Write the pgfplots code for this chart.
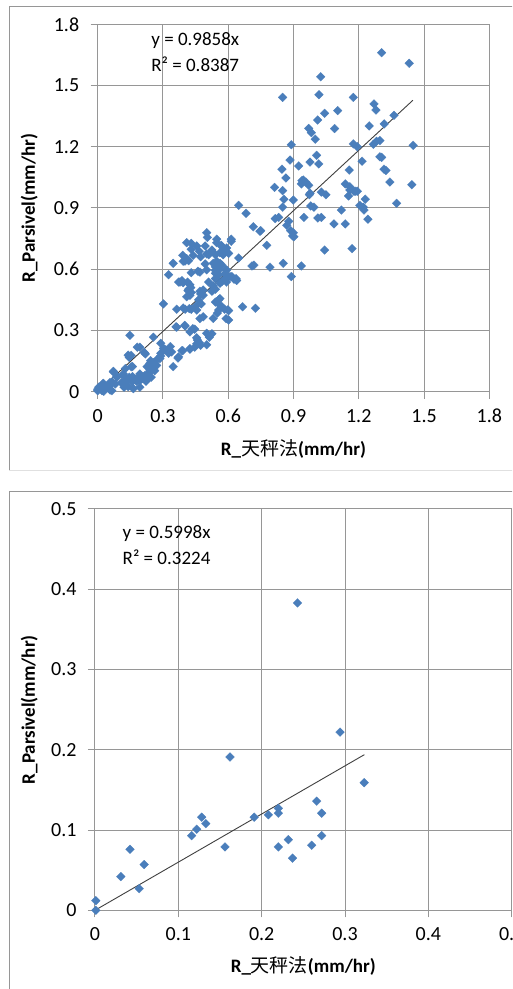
\documentclass[border=0pt]{standalone}
\usepackage{pgfplots}
\pgfplotsset{compat=1.18}
\usepackage{fontspec}
\setmainfont{Carlito}
\newfontfamily\cjk{Noto Sans CJK TC}

\definecolor{gridgray}{RGB}{150,150,150}
\definecolor{markblue}{RGB}{74,126,187}
\definecolor{framegray}{RGB}{150,150,150}

% top panel: R_Parsivel vs balance method
\pgfplotstableread{
x y
1.305 1.661
1.432 1.609
1.025 1.543
0.850 1.442
1.017 1.455
1.175 1.442
1.270 1.410
1.279 1.380
1.362 1.354
1.043 1.364
1.103 1.377
1.011 1.331
0.970 1.290
0.982 1.269
1.089 1.289
1.248 1.302
1.317 1.312
1.000 1.237
0.890 1.210
1.175 1.214
1.193 1.200
1.267 1.212
1.282 1.227
1.297 1.230
1.450 1.207
1.006 1.158
0.976 1.125
1.016 1.116
1.215 1.129
1.297 1.151
1.305 1.148
0.884 1.135
0.924 1.106
0.847 1.090
1.316 1.090
1.325 1.084
1.156 1.086
0.865 1.047
0.939 1.034
0.945 1.037
0.957 1.027
1.343 1.027
1.444 1.014
0.813 1.001
0.936 1.018
0.970 1.011
1.138 1.018
1.159 1.004
0.850 0.985
0.976 0.972
1.028 0.978
1.049 0.965
1.178 0.982
1.193 0.982
1.159 0.988
1.184 0.982
1.153 0.959
0.973 0.965
0.856 0.943
0.899 0.939
1.230 0.943
1.374 0.923
0.850 0.904
0.979 0.910
0.994 0.904
1.205 0.913
1.221 0.904
1.224 0.890
0.648 0.913
0.682 0.874
0.948 0.854
1.012 0.851
1.028 0.854
1.120 0.890
1.242 0.845
0.816 0.848
0.832 0.854
0.878 0.835
1.086 0.822
1.138 0.822
0.715 0.808
0.746 0.786
0.869 0.815
0.887 0.789
0.896 0.763
0.501 0.779
0.504 0.756
0.547 0.747
0.614 0.747
0.749 0.789
0.777 0.717
0.899 0.779
0.902 0.759
1.043 0.694
1.169 0.701
0.430 0.727
0.409 0.730
0.455 0.714
0.494 0.714
0.525 0.694
0.614 0.737
0.547 0.730
0.568 0.717
0.593 0.704
0.571 0.710
0.467 0.688
0.439 0.668
0.473 0.661
0.501 0.675
0.562 0.681
0.586 0.691
0.541 0.671
0.577 0.671
0.602 0.678
0.430 0.698
0.391 0.668
0.347 0.629
0.648 0.655
0.709 0.616
0.718 0.620
0.792 0.610
0.853 0.629
0.890 0.564
0.936 0.616
0.418 0.642
0.401 0.640
0.393 0.639
0.409 0.652
0.510 0.671
0.547 0.639
0.562 0.629
0.541 0.612
0.326 0.573
0.378 0.537
0.393 0.534
0.413 0.537
0.430 0.583
0.470 0.586
0.461 0.590
0.418 0.502
0.430 0.486
0.409 0.465
0.494 0.626
0.501 0.597
0.531 0.629
0.541 0.594
0.556 0.573
0.571 0.620
0.589 0.597
0.608 0.564
0.627 0.551
0.639 0.545
0.510 0.537
0.531 0.518
0.571 0.540
0.592 0.537
0.541 0.580
0.556 0.596
0.593 0.596
0.584 0.577
0.586 0.554
0.617 0.564
0.636 0.554
0.372 0.537
0.387 0.544
0.424 0.524
0.415 0.495
0.428 0.510
0.541 0.554
0.562 0.531
0.470 0.492
0.485 0.473
0.485 0.498
0.473 0.479
0.525 0.492
0.541 0.502
0.424 0.472
0.464 0.450
0.452 0.420
0.476 0.430
0.531 0.499
0.556 0.450
0.562 0.424
0.562 0.456
0.541 0.439
0.583 0.404
0.598 0.401
0.571 0.416
0.602 0.397
0.556 0.400
0.602 0.351
0.590 0.358
0.550 0.385
0.531 0.359
0.666 0.416
0.725 0.409
0.302 0.430
0.363 0.404
0.393 0.410
0.421 0.407
0.402 0.404
0.430 0.404
0.455 0.400
0.485 0.367
0.470 0.358
0.363 0.316
0.360 0.318
0.400 0.325
0.402 0.322
0.424 0.293
0.437 0.309
0.446 0.306
0.501 0.286
0.446 0.218
0.424 0.211
0.455 0.235
0.455 0.264
0.467 0.241
0.513 0.267
0.525 0.284
0.501 0.230
0.458 0.253
0.473 0.227
0.391 0.201
0.387 0.201
0.424 0.208
0.369 0.165
0.372 0.171
0.347 0.123
0.148 0.276
0.256 0.267
0.182 0.218
0.194 0.218
0.219 0.185
0.140 0.179
0.154 0.178
0.145 0.168
0.214 0.192
0.290 0.237
0.302 0.212
0.308 0.208
0.318 0.202
0.334 0.221
0.340 0.195
0.290 0.188
0.286 0.162
0.326 0.188
0.290 0.175
0.273 0.158
0.258 0.142
0.240 0.139
0.243 0.152
0.256 0.139
0.271 0.129
0.262 0.103
0.227 0.123
0.160 0.123
0.154 0.122
0.127 0.113
0.072 0.097
0.072 0.100
0.091 0.074
0.087 0.073
0.160 0.074
0.194 0.087
0.209 0.064
0.218 0.080
0.230 0.083
0.234 0.090
0.246 0.071
0.222 0.051
0.194 0.057
0.210 0.073
0.182 0.064
0.145 0.071
0.158 0.048
0.133 0.057
0.112 0.041
0.118 0.080
0.179 0.051
0.134 0.051
0.109 0.045
0.140 0.025
0.081 0.038
0.056 0.045
0.066 0.048
0.053 0.028
0.044 0.025
0.026 0.041
0.023 0.038
0.011 0.015
0.005 0.022
0.000 0.012
0.000 0.005
0.020 0.005
0.038 0.022
0.057 0.008
0.028 0.002
0.065 0.005
0.121 0.022
0.164 0.015
0.194 0.022
0.194 0.054
0.227 0.061
0.240 0.106
0.258 0.119
0.118 0.087
0.172 0.061
}\toptable

% bottom panel
\pgfplotstableread{
x y
0.243 0.383
0.294 0.222
0.162 0.191
0.323 0.159
0.266 0.136
0.220 0.127
0.220 0.121
0.208 0.119
0.272 0.121
0.191 0.116
0.128 0.116
0.133 0.108
0.122 0.101
0.116 0.093
0.232 0.088
0.272 0.093
0.156 0.079
0.220 0.079
0.260 0.081
0.237 0.065
0.042 0.076
0.059 0.057
0.031 0.042
0.053 0.027
0.001 0.012
0.001 0.000
}\bottable

\pgfplotsset{
  excel/.style={
    scale only axis,
    anchor=south west,
    clip=false,
    axis line style={draw=gridgray, line width=1pt},
    grid=major,
    major grid style={draw=gridgray, line width=1pt},
    tick style={draw=gridgray, line width=1pt},
    tick align=outside,
    major tick length=7pt,
    xtick pos=left, ytick pos=left,
    /pgf/number format/assume math mode=true,
    ticklabel style={font=\fontsize{20}{23}\selectfont, text=black},
    yticklabel style={xshift=-8pt},
    xticklabel style={yshift=-7pt},
    label style={font=\fontsize{19}{22}\selectfont\bfseries},
  },
  dots/.style={only marks, draw=markblue, fill=markblue, mark=square*,
    mark size=3.1pt, mark options={rotate=45, line width=0.2pt}},
  trend/.style={black!75, line width=0.9pt},
}

\begin{document}
\begin{tikzpicture}
\useasboundingbox (0pt,0pt) rectangle (512pt,989pt);
\clip (0pt,0pt) rectangle (512pt,989pt);
\fill[white] (0pt,0pt) rectangle (512pt,989pt);

% chart frames
\draw[framegray, line width=1pt] (9pt,519pt) -- (9pt,982pt) -- (520pt,982pt);
\draw[black!12, line width=0.8pt] (9pt,519pt) -- (520pt,519pt);
\draw[framegray, line width=1pt] (9pt,-5pt) -- (9pt,497pt) -- (520pt,497pt);

\begin{axis}[excel,
  at={(97.7pt,597.3pt)}, width=391.6pt, height=367.4pt,
  xmin=0, xmax=1.8, ymin=0, ymax=1.8,
  xtick={0,0.3,0.6,0.9,1.2,1.5,1.8},
  ytick={0,0.3,0.6,0.9,1.2,1.5,1.8},
  xlabel={R\_{\cjk\mdseries 天秤法}(mm/hr)},
  ylabel={R\_Parsivel(mm/hr)},
  xlabel style={at={(axis description cs:0.5,0)}, anchor=center, yshift=-57pt},
  ylabel style={at={(axis description cs:-0.175,0.5)}, anchor=center},
]
\addplot[dots] table[x=x,y=y] {\toptable};
\addplot[trend] coordinates {(0,0) (1.449,1.428)};
\node[anchor=west, font=\fontsize{19}{22}\selectfont] at (rel axis cs:0.128,0.955) {y = 0.9858x};
\node[anchor=west, font=\fontsize{19}{22}\selectfont] at (rel axis cs:0.128,0.892) {R² = 0.8387};
\end{axis}

\begin{axis}[excel,
  at={(95pt,78.7pt)}, width=416.7pt, height=401.3pt,
  xmin=0, xmax=0.5, ymin=0, ymax=0.5,
  xtick={0,0.1,0.2,0.3,0.4,0.5},
  ytick={0,0.1,0.2,0.3,0.4,0.5},
  xlabel={R\_{\cjk\mdseries 天秤法}(mm/hr)},
  ylabel={R\_Parsivel(mm/hr)},
  xlabel style={at={(axis description cs:0.5,0)}, anchor=center, yshift=-56pt},
  ylabel style={at={(axis description cs:-0.158,0.5)}, anchor=center},
]
\addplot[dots] table[x=x,y=y] {\bottable};
\addplot[trend] coordinates {(0,0) (0.3232,0.1939)};
\node[anchor=west, font=\fontsize{19}{22}\selectfont] at (rel axis cs:0.058,0.938) {y = 0.5998x};
\node[anchor=west, font=\fontsize{19}{22}\selectfont] at (rel axis cs:0.058,0.880) {R² = 0.3224};
\end{axis}
\end{tikzpicture}
\end{document}
